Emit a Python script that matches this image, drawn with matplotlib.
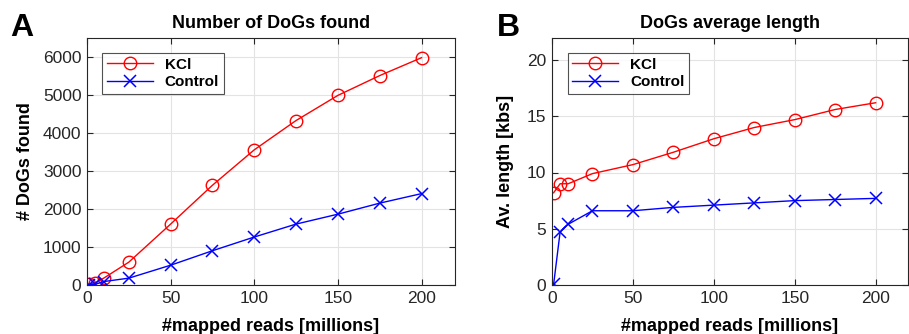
import matplotlib
matplotlib.use("Agg")
import matplotlib.pyplot as plt

plt.rcParams['font.family'] = ['Liberation Sans', 'DejaVu Sans']

reads = [1, 5, 10, 25, 50, 75, 100, 125, 150, 175, 200]
kcl_count = [20, 60, 180, 600, 1600, 2620, 3550, 4320, 4980, 5500, 5970]
ctrl_count = [10, 20, 90, 180, 520, 900, 1260, 1600, 1860, 2150, 2400]
kcl_len = [8.2, 9.0, 9.0, 9.9, 10.7, 11.8, 13.0, 14.0, 14.7, 15.6, 16.2]
ctrl_len = [0.05, 4.7, 5.4, 6.6, 6.6, 6.9, 7.1, 7.3, 7.5, 7.6, 7.7]

W, H = 909, 334
fig = plt.figure(figsize=(W / 100, H / 100), dpi=100)

def make_ax(left, right, top, bottom):
    return fig.add_axes([left / W, 1 - bottom / H, (right - left) / W, (bottom - top) / H])

axA = make_ax(87, 455, 37.5, 285)
axB = make_ax(552, 908, 37.5, 285)

spine_col = '#262626'
for ax in (axA, axB):
    ax.grid(True, color='#e3e3e3', linewidth=0.8)
    ax.set_axisbelow(True)
    for s in ax.spines.values():
        s.set_color(spine_col)
        s.set_linewidth(0.8)
    ax.tick_params(direction='in', top=True, right=True, length=4, width=0.8,
                   colors=spine_col, labelsize=12.5, labelcolor='#262626', pad=4)
    ax.set_xlim(0, 220)
    ax.set_xticks([0, 50, 100, 150, 200])
    ax.set_xlabel('#mapped reads [millions]', fontsize=13, fontweight='bold', labelpad=9)

axA.plot(reads, kcl_count, color='#ff0000', lw=1, marker='o', ms=9, mfc='none', mew=1, label='KCl')
axA.plot(reads, ctrl_count, color='#0000ff', lw=1, marker='x', ms=8, mew=1.1, label='Control')
axA.set_ylim(0, 6500)
axA.set_yticks(range(0, 6001, 1000))
axA.set_ylabel('# DoGs found', fontsize=13, fontweight='bold', labelpad=6)
axA.set_title('Number of DoGs found', fontsize=13, fontweight='bold', pad=7)

axB.plot(reads, kcl_len, color='#ff0000', lw=1, marker='o', ms=9, mfc='none', mew=1, label='KCl')
axB.plot(reads, ctrl_len, color='#0000ff', lw=1, marker='x', ms=8, mew=1.1, label='Control')
axB.set_ylim(0, 22)
axB.set_yticks([0, 5, 10, 15, 20])
axB.set_ylabel('Av. length [kbs]', fontsize=13, fontweight='bold', labelpad=9)
axB.set_title('DoGs average length', fontsize=13, fontweight='bold', pad=7)

for ax, x0 in ((axA, 0.041), (axB, 0.044)):
    leg = ax.legend(loc='upper left', bbox_to_anchor=(x0, 0.937), borderaxespad=0,
                    prop={'weight': 'bold', 'size': 11}, frameon=True, fancybox=False,
                    handlelength=3.0, borderpad=0.3, labelspacing=0.25, handletextpad=0.8)
    leg.get_frame().set_edgecolor('#262626')
    leg.get_frame().set_linewidth(0.8)

fig.text(10 / W, 1 - 36 / H, 'A', fontsize=23, fontweight='bold')
fig.text(497 / W, 1 - 36 / H, 'B', fontsize=23, fontweight='bold')

fig.savefig('out.png', dpi=100)
